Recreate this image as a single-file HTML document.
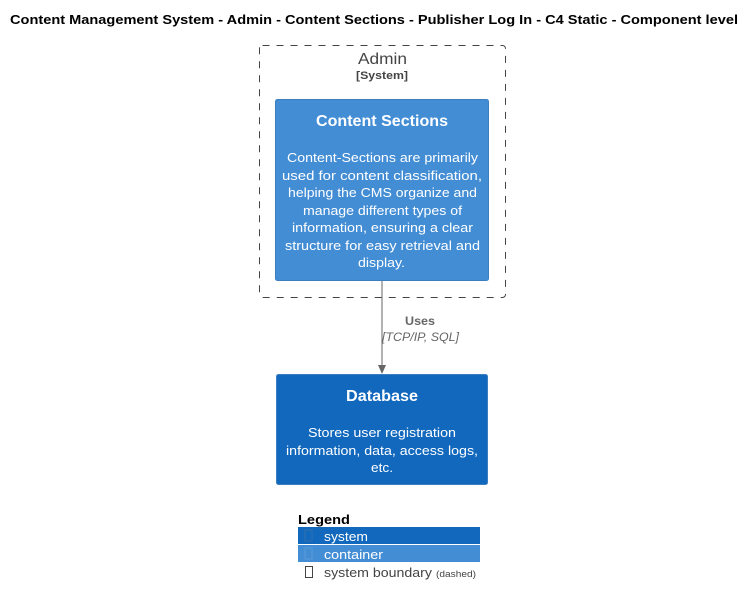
<!DOCTYPE html>
<html><head><style>
body{margin:0;background:#fff;width:756px;height:605px;overflow:hidden;font-family:"Liberation Sans",sans-serif}
</style></head><body>
<svg width="756" height="605" xmlns="http://www.w3.org/2000/svg" font-family="Liberation Sans, sans-serif">
<g lengthAdjust="spacingAndGlyphs">
<text x="10" y="24" font-size="13" font-weight="bold" fill="#000" textLength="728" lengthAdjust="spacingAndGlyphs">Content Management System - Admin - Content Sections - Publisher Log In - C4 Static - Component level</text>
<rect x="259.5" y="45.5" width="246" height="252" rx="3" fill="none" stroke="#444" stroke-dasharray="7,7"/>
<text x="358" y="64" font-size="16" fill="#444" textLength="49" lengthAdjust="spacingAndGlyphs">Admin</text>
<text x="356" y="79" font-size="11" font-weight="bold" fill="#444" textLength="52" lengthAdjust="spacingAndGlyphs">[System]</text>
<rect x="275.5" y="99.5" width="213" height="181" rx="2" fill="#438DD5" stroke="#3C7FC0"/>
<g fill="#fff">
<text x="316" y="126" font-size="16" font-weight="bold" textLength="132" lengthAdjust="spacingAndGlyphs">Content Sections</text>
<g font-size="13">
<text x="287" y="162" textLength="191" lengthAdjust="spacingAndGlyphs">Content-Sections are primarily</text>
<text x="282" y="180" textLength="200" lengthAdjust="spacingAndGlyphs">used for content classification,</text>
<text x="288" y="197" textLength="189" lengthAdjust="spacingAndGlyphs">helping the CMS organize and</text>
<text x="303" y="215" textLength="159" lengthAdjust="spacingAndGlyphs">manage different types of</text>
<text x="292" y="232" textLength="181" lengthAdjust="spacingAndGlyphs">information, ensuring a clear</text>
<text x="285" y="250" textLength="195" lengthAdjust="spacingAndGlyphs">structure for easy retrieval and</text>
<text x="358" y="267" textLength="47" lengthAdjust="spacingAndGlyphs">display.</text>
</g></g>
<line x1="382" y1="281" x2="382" y2="366" stroke="#666" stroke-width="1"/>
<polygon points="378,365 386,365 382,374" fill="#666"/>
<text x="405" y="325" font-size="12" font-weight="bold" fill="#666" textLength="30" lengthAdjust="spacingAndGlyphs">Uses</text>
<text x="382" y="341" font-size="12" font-style="italic" fill="#666" textLength="77" lengthAdjust="spacingAndGlyphs">[TCP/IP, SQL]</text>
<rect x="276.5" y="374.5" width="211" height="110" rx="2" fill="#1168BD" stroke="#3C7FC0"/>
<g fill="#fff">
<text x="346" y="401" font-size="16" font-weight="bold" textLength="72" lengthAdjust="spacingAndGlyphs">Database</text>
<g font-size="13">
<text x="308" y="437" textLength="148" lengthAdjust="spacingAndGlyphs">Stores user registration</text>
<text x="286" y="455" textLength="192" lengthAdjust="spacingAndGlyphs">information, data, access logs,</text>
<text x="371" y="472" textLength="22" lengthAdjust="spacingAndGlyphs">etc.</text>
</g></g>
<text x="298" y="524" font-size="13" font-weight="bold" fill="#000" textLength="52" lengthAdjust="spacingAndGlyphs">Legend</text>
<rect x="298" y="527" width="182" height="17" fill="#1168BD"/>
<rect x="298" y="545" width="182" height="17" fill="#438DD5"/>
<rect x="305" y="530" width="7" height="11" fill="none" stroke="#2f6fb0" stroke-width="1"/>
<rect x="305" y="548" width="7" height="11" fill="none" stroke="#5a9ad8" stroke-width="1"/>
<rect x="305.5" y="566.5" width="7" height="11" fill="none" stroke="#444" stroke-width="1"/>
<text x="324" y="541" font-size="13" fill="#fff" textLength="44" lengthAdjust="spacingAndGlyphs">system</text>
<text x="324" y="559" font-size="13" fill="#fff" textLength="59" lengthAdjust="spacingAndGlyphs">container</text>
<text x="324" y="577" font-size="13" fill="#444" textLength="108" lengthAdjust="spacingAndGlyphs">system boundary</text>
<text x="436" y="577" font-size="9" fill="#444" textLength="40" lengthAdjust="spacingAndGlyphs">(dashed)</text>
</g>
</svg>
</body></html>
